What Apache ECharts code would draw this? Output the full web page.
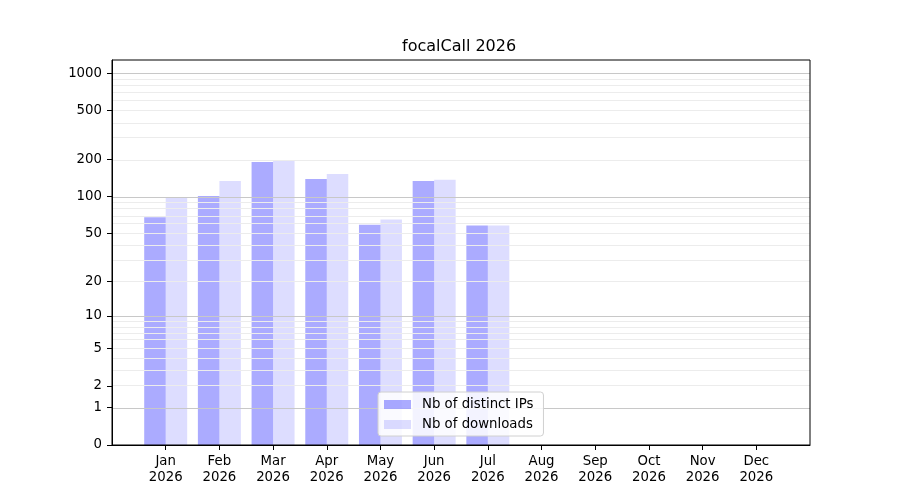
<!DOCTYPE html>
<html>
<head>
<meta charset="utf-8">
<script src="https://cdn.jsdelivr.net/npm/echarts@6/dist/echarts.min.js"></script>
<style>
  html, body { margin: 0; padding: 0; background: #fff; }
  #main { width: 900px; height: 500px; }
</style>
</head>
<body>
<div id="main"></div>
<script>
// months shown on the x axis
var months = ['Jan', 'Feb', 'Mar', 'Apr', 'May', 'Jun', 'Jul', 'Aug', 'Sep', 'Oct', 'Nov', 'Dec']
var year = '2026'
// values (Aug..Dec have no bars)
var distinctIPs = [68, 101, 191, 139, 59, 134, 58]
var downloads = [98, 134, 195, 153, 65, 137, 58]
// y tick labels (axis is log10(v + 1))
var yTicks = [0, 1, 2, 5, 10, 20, 50, 100, 200, 500, 1000]
var yMajorGrid = [1, 10, 100, 1000]
var yMinorGrid = [2, 3, 4, 5, 6, 7, 8, 9, 20, 30, 40, 50, 60, 70, 80, 90, 200, 300, 400, 500, 600, 700, 800, 900]

function tr(v) {
  return Math.log10(v + 1)
}
function toPoints(arr) {
  return arr.map(function (v, i) { return [i, tr(v)] })
}

var chart = echarts.init(document.getElementById('main'), null, { renderer: 'canvas' })
var font = 'DejaVu Sans'
var monthIdx = months.map(function (m, i) { return i })

var gridLines = []
yMinorGrid.forEach(function (v) {
  gridLines.push({ yAxis: tr(v), lineStyle: { color: '#ececec', width: 1, type: 'solid' } })
})
yMajorGrid.forEach(function (v) {
  gridLines.push({ yAxis: tr(v), lineStyle: { color: '#c8c8c8', width: 1, type: 'solid' } })
})

var option = {
  animation: false,
  title: {
    text: 'focalCall ' + year,
    left: 402,
    top: 39,
    padding: 0,
    textStyle: { fontFamily: font, fontSize: 16, fontWeight: 'normal', color: '#000' }
  },
  grid: {
    left: 112,
    right: 90,
    top: 60,
    bottom: 55,
    z: 10,
    show: true,
    borderColor: '#000',
    borderWidth: 1,
    backgroundColor: 'transparent'
  },
  legend: {
    orient: 'vertical',
    left: 378,
    top: 392,
    z: 12,
    padding: [6, 10, 5, 6],
    itemGap: 7,
    itemWidth: 27,
    itemHeight: 9,
    icon: 'rect',
    backgroundColor: 'rgba(255,255,255,0.85)',
    borderColor: '#d0d0d0',
    borderWidth: 1,
    borderRadius: 3,
    textStyle: { fontFamily: font, fontSize: 13.3, color: '#000', padding: [0, 0, 0, 6] },
    data: ['Nb of distinct IPs', 'Nb of downloads']
  },
  xAxis: {
    type: 'value',
    min: -1,
    max: 12,
    interval: 1,
    z: 11,
    axisLine: { show: true, onZero: false, lineStyle: { color: '#000', width: 1 } },
    axisTick: { show: true, length: 5, customValues: monthIdx, lineStyle: { color: '#000' } },
    axisLabel: {
      customValues: monthIdx,
      margin: 9,
      fontFamily: font,
      fontSize: 13.3,
      lineHeight: 16,
      color: '#000',
      formatter: function (v) { return months[Math.round(v)] + '\n' + year }
    },
    splitLine: { show: false }
  },
  yAxis: {
    type: 'value',
    min: 0,
    max: 3.107,
    z: 11,
    axisLine: { show: true, onZero: false, lineStyle: { color: '#000', width: 1 } },
    axisTick: { show: true, length: 5, customValues: yTicks.map(tr), lineStyle: { color: '#000' } },
    axisLabel: {
      customValues: yTicks.map(tr),
      margin: 10,
      fontFamily: font,
      fontSize: 13.3,
      color: '#000',
      formatter: function (v) { return String(Math.round(Math.pow(10, v) - 1)) }
    },
    splitLine: { show: false }
  },
  series: [
    {
      name: 'grid',
      type: 'line',
      data: [],
      z: 1,
      silent: true,
      markLine: {
        silent: true,
        symbol: ['none', 'none'],
        label: { show: false },
        animation: false,
        data: gridLines
      }
    },
    {
      name: 'Nb of distinct IPs',
      type: 'bar',
      z: 2,
      barWidth: 21.5,
      barGap: '0%',
      itemStyle: { color: 'rgba(0,0,255,0.33)' },
      data: toPoints(distinctIPs)
    },
    {
      name: 'Nb of downloads',
      type: 'bar',
      z: 2,
      barWidth: 21.5,
      barGap: '0%',
      itemStyle: { color: 'rgba(0,0,255,0.135)' },
      data: toPoints(downloads)
    }
  ]
}
chart.setOption(option)
</script>
</body>
</html>
